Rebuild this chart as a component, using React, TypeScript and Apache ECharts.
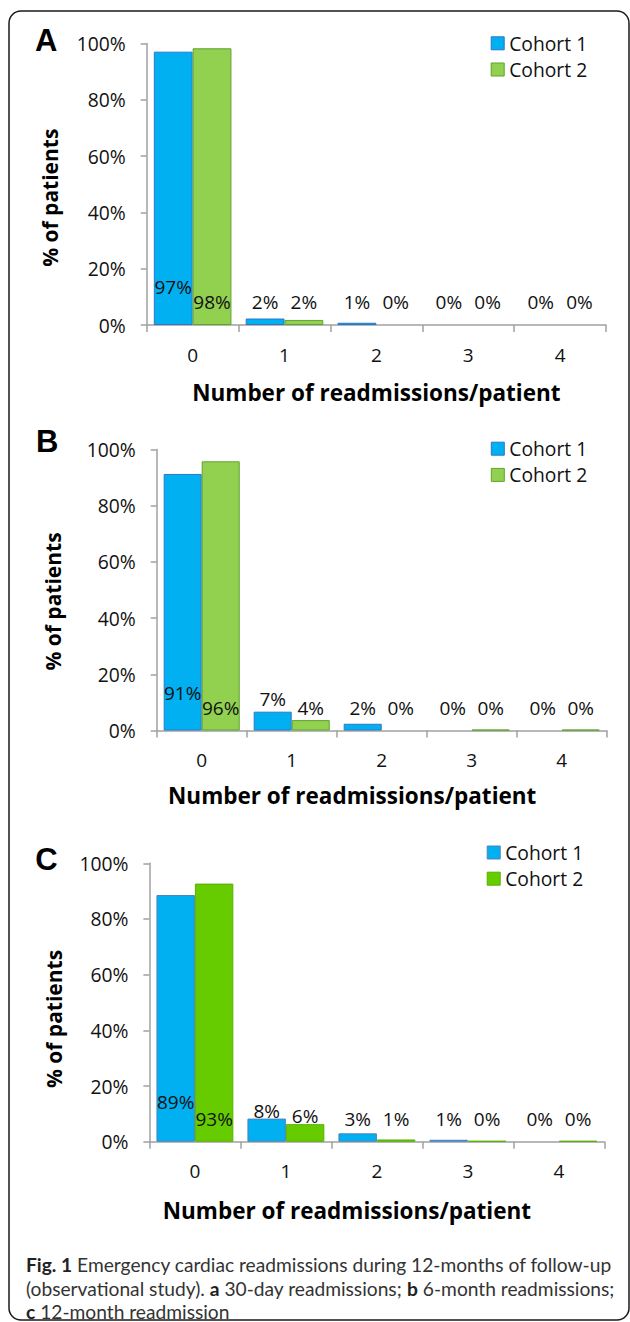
import React, { useEffect, useRef } from 'react';
import * as echarts from 'echarts';

// ---------- data ----------
const categories = ['0', '1', '2', '3', '4'];
const cohortNames = ['Cohort 1', 'Cohort 2'];
const panelLetters = ['A', 'B', 'C'];
const xAxisTitle = 'Number of readmissions/patient';
const yAxisTitle = '% of patients';
const yTickValues = [0, 20, 40, 60, 80, 100];

// A: 30-day readmissions (% of patients)
const a30DayCohort1 = [97.1, 2.3, 0.8, 0, 0];
const a30DayCohort2 = [98.3, 1.8, 0, 0, 0];
// B: 6-month readmissions
const b6MonthCohort1 = [91.3, 6.7, 2.4, 0, 0];
const b6MonthCohort2 = [95.8, 3.7, 0, 0.3, 0.3];
// C: 12-month readmissions
const c12MonthCohort1 = [88.6, 8.3, 3.0, 0.7, 0];
const c12MonthCohort2 = [92.7, 6.3, 0.8, 0.3, 0.3];

const captionLines = [
  '{b|Fig. 1} Emergency cardiac readmissions during 12-months of follow-up',
  '(observational study). {b|a} 30-day readmissions; {b|b} 6-month readmissions;',
  '{b|c} 12-month readmission',
];

// ---------- layout & style ----------
const panelData = [
  [a30DayCohort1, a30DayCohort2],
  [b6MonthCohort1, b6MonthCohort2],
  [c12MonthCohort1, c12MonthCohort2],
];

const layouts = [
  {
    grid: { left: 146.7, top: 43.5, width: 459.3, height: 281.5 },
    legend: { left: 490.7, top: 33.8, itemGap: 7.2 },
    letter: { x: 35, y: 40.5 },
    yGap: 86, yShift: 27, xGap: 56, xShift: 0,
    lifts: [[15, 0, 0, 0, 0], [0, 0, 0, 0, 0]],
    colors: [
      { fill: '#00B0F0', border: '#2E75C8' },
      { fill: '#92D050', border: '#5EA32E' },
    ],
  },
  {
    grid: { left: 156.7, top: 449.5, width: 450, height: 281 },
    legend: { left: 490.8, top: 439.2, itemGap: 7.2 },
    letter: { x: 36, y: 441 },
    yGap: 93, yShift: 23, xGap: 53, xShift: 59,
    lifts: [[15, 9, 0, 0, 0], [0, 0, 0, 0, 0]],
    colors: [
      { fill: '#00B0F0', border: '#2E75C8' },
      { fill: '#92D050', border: '#5EA32E' },
    ],
  },
  {
    grid: { left: 149.4, top: 863.3, width: 455, height: 278.4 },
    legend: { left: 486.7, top: 843, itemGap: 7.2 },
    letter: { x: 35.3, y: 859 },
    yGap: 85, yShift: 33, xGap: 57, xShift: 60,
    lifts: [[17, 8, 0, 0, 0], [0, 3, 0, 0, 0]],
    colors: [
      { fill: '#00B0F0', border: '#4F81BD' },
      { fill: '#66CC00', border: '#58B000' },
    ],
  },
];

const FONT = 'Open Sans';
const TEXT_COLOR = '#111';
const AXIS_COLOR = '#A0A0A0';

function buildOption() {
  const grid: any[] = [];
  const xAxis: any[] = [];
  const yAxis: any[] = [];
  const legend: any[] = [];
  const series: any[] = [];
  const graphic: any[] = [];

  layouts.forEach((L, p) => {
    grid.push({ ...L.grid, containLabel: false });
    xAxis.push({
      type: 'category',
      gridIndex: p,
      data: categories,
      axisLine: { lineStyle: { color: AXIS_COLOR, width: 1.5 } },
      axisTick: { show: true, length: 7, lineStyle: { color: AXIS_COLOR, width: 1.5 } },
      axisLabel: { margin: 20, fontSize: 19, fontFamily: FONT, color: TEXT_COLOR },
      name: xAxisTitle,
      nameLocation: 'middle',
      nameGap: L.xGap,
      nameTextStyle: {
        fontSize: 22.5,
        fontWeight: 'bold',
        fontFamily: FONT,
        color: '#000',
        padding: [0, L.xShift, 0, 0],
      },
    });
    yAxis.push({
      type: 'value',
      gridIndex: p,
      min: yTickValues[0],
      max: yTickValues[yTickValues.length - 1],
      interval: yTickValues[1] - yTickValues[0],
      splitLine: { show: false },
      axisLine: { show: true, lineStyle: { color: AXIS_COLOR, width: 1.5 } },
      axisTick: { show: true, length: 6, lineStyle: { color: AXIS_COLOR, width: 1.5 } },
      axisLabel: {
        margin: 21,
        fontSize: 19.3,
        fontFamily: FONT,
        color: TEXT_COLOR,
        formatter: '{value}%',
      },
      name: yAxisTitle,
      nameLocation: 'middle',
      nameGap: L.yGap,
      nameTextStyle: {
        fontSize: 21,
        fontWeight: 'bold',
        fontFamily: FONT,
        color: '#000',
        padding: [0, L.yShift, 0, 0],
      },
    });
    legend.push({
      orient: 'vertical',
      left: L.legend.left,
      top: L.legend.top,
      padding: 0,
      itemGap: L.legend.itemGap,
      itemWidth: 13,
      itemHeight: 13,
      selectedMode: false,
      textStyle: { fontSize: 19.3, fontFamily: FONT, color: TEXT_COLOR, lineHeight: 19 },
      data: cohortNames.map((n, i) => ({
        name: n,
        icon: 'rect',
        itemStyle: { color: L.colors[i].fill, borderColor: L.colors[i].border, borderWidth: 1 },
      })),
    });
    panelData[p].forEach((values, s) => {
      series.push({
        type: 'bar',
        name: cohortNames[s],
        xAxisIndex: p,
        yAxisIndex: p,
        barGap: '0%',
        barCategoryGap: '15.5%',
        itemStyle: { color: L.colors[s].fill, borderColor: L.colors[s].border, borderWidth: 1 },
        label: {
          show: true,
          position: 'insideBottom',
          distance: 13.5,
          fontSize: 19,
          lineHeight: 19,
          fontFamily: FONT,
          color: TEXT_COLOR,
          formatter: (prm: any) => Math.round(prm.value) + '%',
        },
        data: values.map((v, k) => ({
          value: v,
          itemStyle: { borderWidth: v > 0 ? 1 : 0 },
          label: { offset: [0, -L.lifts[s][k]] },
        })),
      });
    });
    graphic.push({
      type: 'text',
      x: L.letter.x,
      y: L.letter.y,
      style: {
        text: panelLetters[p],
        font: 'bold 31px "Liberation Sans", Arial, sans-serif',
        fill: '#000',
        textAlign: 'left',
        textVerticalAlign: 'middle',
      },
    });
  });

  const captionY = [1264, 1288, 1311];
  captionLines.forEach((line, i) => {
    graphic.push({
      type: 'text',
      x: 26,
      y: captionY[i],
      style: {
        text: line,
        fontSize: 19.2,
        lineHeight: 20,
        fontFamily: 'Lato',
        fill: '#333',
        textAlign: 'left',
        textVerticalAlign: 'middle',
        rich: {
          b: { fontSize: 19.2, lineHeight: 20, fontFamily: 'Lato', fontWeight: 'bold', fill: '#222', color: '#222' },
        },
      },
    });
  });

  graphic.push({
    type: 'rect',
    shape: { x: 9, y: 11, width: 620, height: 1309, r: 12 },
    style: { fill: 'none', stroke: '#1a1a1a', lineWidth: 1.5 },
    silent: true,
    z: -1,
  });

  return {
    animation: false,
    backgroundColor: '#fff',
    textStyle: { fontFamily: FONT },
    grid,
    xAxis,
    yAxis,
    legend,
    series,
    graphic,
  };
}

export default function App() {
  const ref = useRef<HTMLDivElement>(null);
  useEffect(() => {
    if (!ref.current) return;
    const chart = echarts.init(ref.current, undefined, { renderer: 'svg' });
    chart.setOption(buildOption() as any);
    return () => chart.dispose();
  }, []);
  return (
    <div
      ref={ref}
      style={{ position: 'absolute', left: 0, top: 0, width: 630, height: 1322, background: '#fff' }}
    />
  );
}
